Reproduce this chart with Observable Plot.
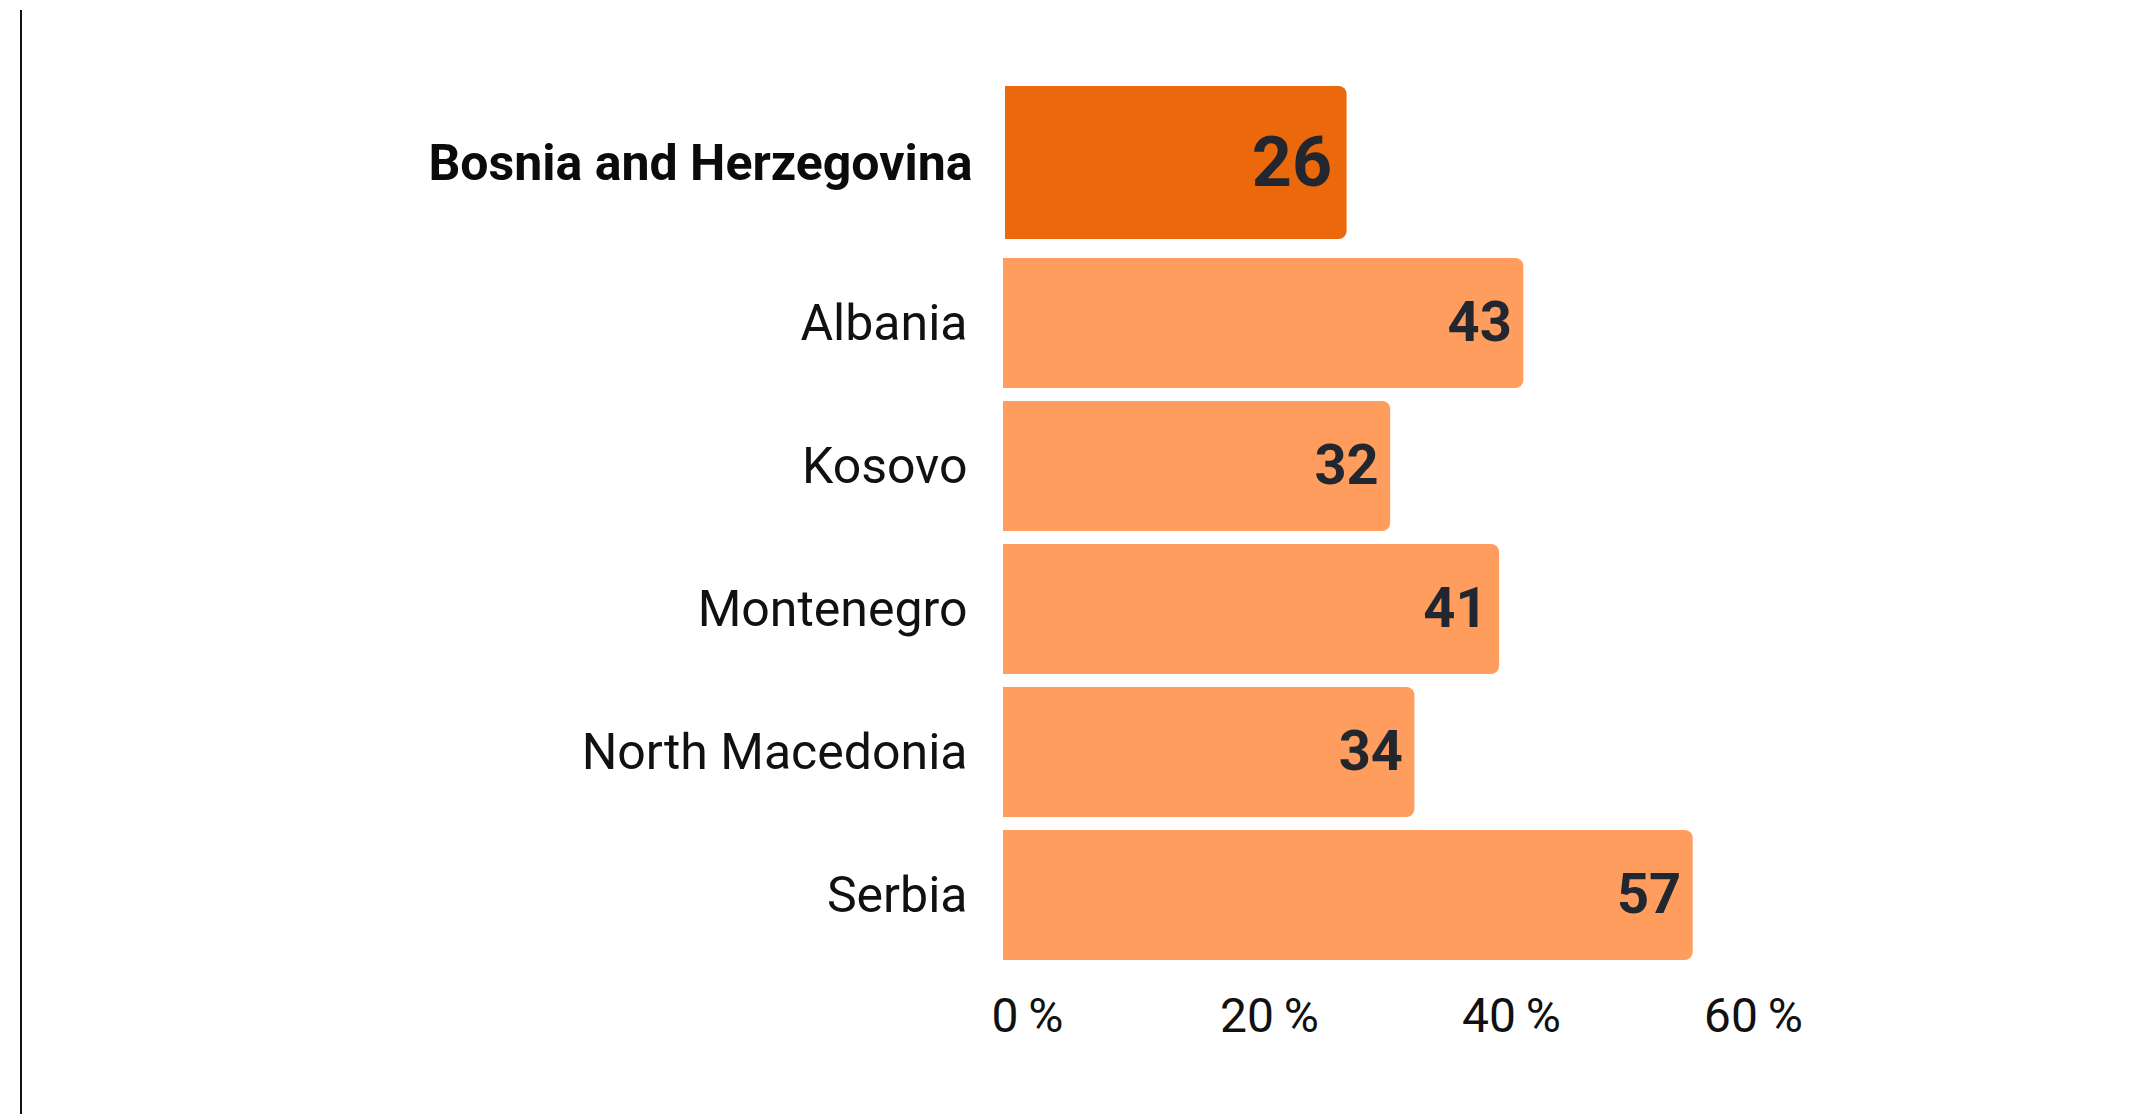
<!DOCTYPE html>
<html>
<head>
<meta charset="utf-8">
<script src="https://cdn.jsdelivr.net/npm/d3@7"></script>
<script src="https://cdn.jsdelivr.net/npm/@observablehq/plot@0.6"></script>
<style>
  html, body { margin: 0; padding: 0; background: #fff; }
  #wrap { position: relative; width: 2135px; height: 1114px; overflow: hidden; }
  #rule { position: absolute; left: 20px; top: 10px; bottom: 0; width: 2px; background: #111; }
  #chart svg { display: block; }
</style>
</head>
<body>
<div id="wrap"><div id="rule"></div><div id="chart"></div></div>
<script>
const countries = ["Bosnia and Herzegovina", "Albania", "Kosovo", "Montenegro", "North Macedonia", "Serbia"];
const values = [26, 43, 32, 41, 34, 57];
const highlight = "Bosnia and Herzegovina";
const xTicks = [0, 20, 40, 60];

const data = countries.map((c, i) => ({country: c, value: values[i]}));
const rest = data.filter(d => d.country !== highlight);
const hl = data.filter(d => d.country === highlight);

const chart = Plot.plot({
  width: 2135,
  height: 1114,
  marginLeft: 1003,
  marginRight: 406,
  marginTop: 108.5,
  marginBottom: 147.5,
  style: {fontFamily: "Roboto, 'Noto Sans', sans-serif", background: "#fff", overflow: "visible"},
  x: {domain: [0, 60], axis: null, label: null},
  y: {domain: countries, paddingInner: 0.09, paddingOuter: 0.045, axis: null, label: null},
  marks: [
    Plot.barX(rest, {x: "value", y: "country", fill: "#FF9D5F", rx2: 8}),
    Plot.barX(hl, {x: "value", y: "country", fill: "#EB690C", rx2: 8,
      insetTop: -29, insetBottom: 6, insetLeft: 2, insetRight: -29}),
    Plot.text(rest, {x: 0, y: "country", text: "country", textAnchor: "end", dx: -36,
      fontSize: 50, fill: "#111"}),
    Plot.text(hl, {x: 0, y: "country", text: "country", textAnchor: "end", dx: -31, dy: -17,
      fontSize: 50, fontWeight: 700, fill: "#0b0b0b"}),
    Plot.text(rest, {x: "value", y: "country", text: d => String(d.value), textAnchor: "end", dx: -12,
      fontSize: 56, fontWeight: 700, fill: "#22262F"}),
    Plot.text(hl, {x: "value", y: "country", text: d => String(d.value), textAnchor: "end", dx: 14, dy: -17,
      fontSize: 70, fontWeight: 700, fill: "#22262F"}),
    Plot.axisX({ticks: xTicks, tickSize: 0, tickPadding: 31, fontSize: 48, dx: 24, label: null,
      tickFormat: d => `${d}\u2009%`, fill: "#111", fontWeight: 400})
  ]
});
document.getElementById("chart").appendChild(chart);
</script>
</body>
</html>
